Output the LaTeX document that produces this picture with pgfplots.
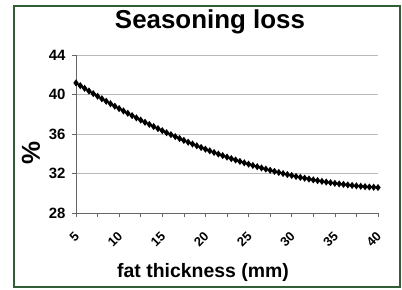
\documentclass[border=0pt]{standalone}
\usepackage{fontspec}
\setmainfont{Liberation Sans}
\usepackage{pgfplots}
\pgfplotsset{compat=1.18}
\definecolor{frame}{HTML}{2F5E37}
\begin{document}
\begin{tikzpicture}[x=1bp,y=1bp]
\useasboundingbox (-76,-77) rectangle (326,213);
\draw[frame, line width=2bp] (-62,-73.5) rectangle (324,207.5);
\begin{axis}[
  at={(0,0)}, anchor=origin,
  scale only axis, width=302bp, height=158bp,
  xmin=5, xmax=40, ymin=28, ymax=44,
  axis x line=bottom, axis y line=left,
  axis line style={-, draw=gray!80!black, line width=0.6bp},
  xtick={5,10,...,40}, minor xtick={7.5,12.5,...,37.5},
  ytick={28,32,36,40,44},
  tick align=outside,
  major tick length=4bp, minor tick length=4bp,
  every tick/.style={draw=gray!80!black, line width=0.6bp},
  ymajorgrids, grid style={draw=gray!55, line width=0.8bp},
  /pgf/number format/assume math mode=true,
  yticklabel style={font=\fontsize{15}{17}\selectfont\bfseries, xshift=-3bp},
  xticklabel style={font=\fontsize{13}{15}\selectfont\bfseries, xshift=3.4bp, yshift=-15bp, rotate=45, anchor=east},
  title={Seasoning loss},
  title style={font=\fontsize{26}{30}\selectfont\bfseries, at={(rel axis cs:0.4437,1.171)}, anchor=center},
  xlabel={fat thickness (mm)},
  xlabel style={font=\fontsize{19.5}{22}\selectfont\bfseries, at={(rel axis cs:0.4205,-0.375)}, anchor=center},
  ylabel={\%},
  ylabel style={font=\fontsize{26}{30}\selectfont\bfseries, at={(rel axis cs:-0.149,0.38)}, anchor=center},
  clip=false,
]
\addplot[black, line width=1.7bp, mark=diamond*, mark size=2.2bp] coordinates {
(5,41.170) (5.5,40.894) (6,40.622) (6.5,40.353) (7,40.088) (7.5,39.826)
(8,39.568) (8.5,39.314) (9,39.063) (9.5,38.816) (10,38.573) (10.5,38.333)
(11,38.097) (11.5,37.864) (12,37.635) (12.5,37.410) (13,37.188) (13.5,36.970)
(14,36.755) (14.5,36.544) (15,36.337) (15.5,36.133) (16,35.933) (16.5,35.737)
(17,35.544) (17.5,35.354) (18,35.169) (18.5,34.987) (19,34.808) (19.5,34.634)
(20,34.462) (20.5,34.295) (21,34.131) (21.5,33.970) (22,33.814) (22.5,33.661)
(23,33.511) (23.5,33.365) (24,33.223) (24.5,33.084) (25,32.949) (25.5,32.818)
(26,32.690) (26.5,32.566) (27,32.445) (27.5,32.328) (28,32.215) (28.5,32.105)
(29,31.999) (29.5,31.896) (30,31.798) (30.5,31.702) (31,31.610) (31.5,31.522)
(32,31.438) (32.5,31.357) (33,31.280) (33.5,31.206) (34,31.136) (34.5,31.070)
(35,31.007) (35.5,30.948) (36,30.893) (36.5,30.841) (37,30.792) (37.5,30.748)
(38,30.706) (38.5,30.669) (39,30.635) (39.5,30.605) (40,30.578)
};
\end{axis}
\end{tikzpicture}
\end{document}
